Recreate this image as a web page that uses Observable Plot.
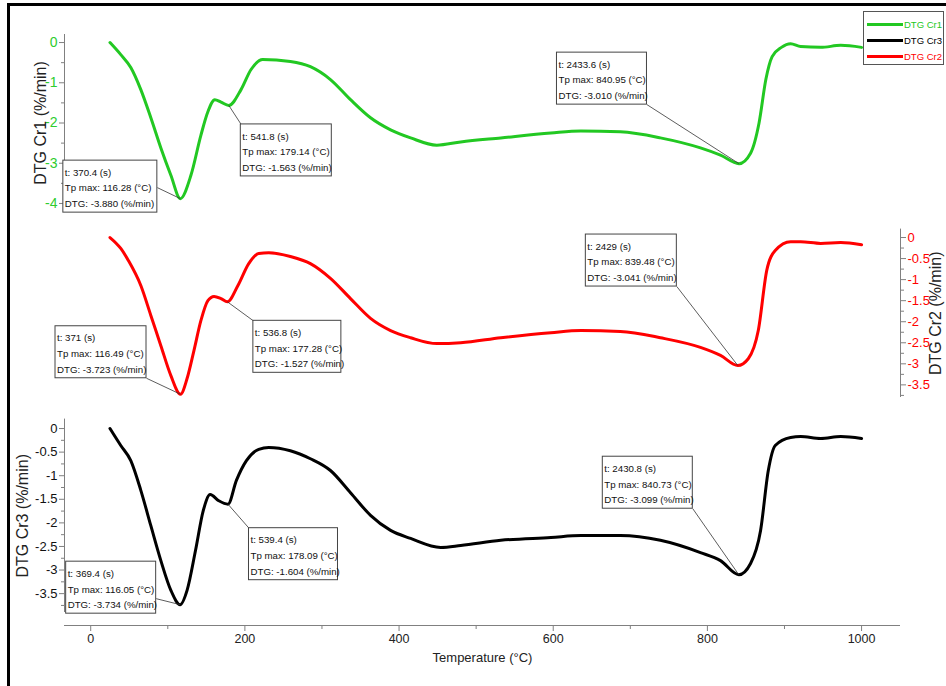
<!DOCTYPE html>
<html><head><meta charset="utf-8">
<script src="https://cdn.jsdelivr.net/npm/d3@7"></script>
<script src="https://cdn.jsdelivr.net/npm/@observablehq/plot@0.6"></script>
<style>
html,body{margin:0;padding:0;background:#fff;overflow:hidden;}
#wrap{position:relative;width:946px;height:686px;overflow:hidden;background:#fff;}
#wrap svg{position:absolute;left:0;top:0;}
#border{position:absolute;left:7px;top:3px;width:980px;height:740px;border:3px solid #000;box-sizing:border-box;pointer-events:none;}
#legend{position:absolute;left:863px;top:11px;width:81px;height:54px;border:1px solid #555;box-sizing:border-box;background:#fff;padding-top:4px;}
#legend .row{display:flex;align-items:center;height:16px;white-space:nowrap;font:9.5px "Liberation Sans Narrow","Arial Narrow","Liberation Sans",sans-serif;}
#legend .sw{display:inline-block;flex:none;width:36px;height:3px;margin-left:3px;margin-right:1px;}
</style></head>
<body><div id="wrap"><div id="border"></div></div>
<script>
// ---------- data ----------
const cr1Temp = [25, 39, 52, 65, 78, 91, 104, 116.28, 130, 143, 152, 161, 169, 179.14, 195, 208, 223, 259, 285, 311, 337, 363, 389, 415, 449, 480, 532, 597, 636, 687, 739, 791, 817, 840.95, 856, 867, 876, 884, 896, 908, 921, 947, 973, 1000];
const cr1DTG  = [0, -0.3, -0.62, -1.17, -1.87, -2.62, -3.3, -3.88, -3.3, -2.3, -1.72, -1.42, -1.48, -1.563, -1.17, -0.67, -0.42, -0.47, -0.6, -0.92, -1.42, -1.87, -2.17, -2.37, -2.55, -2.47, -2.37, -2.25, -2.2, -2.22, -2.37, -2.62, -2.8, -3.01, -2.75, -2.0, -0.9, -0.35, -0.12, -0.03, -0.1, -0.12, -0.07, -0.12];

const cr2Temp = [25, 39, 49, 65, 78, 91, 104, 116.49, 125, 134, 143, 152, 160, 169, 177.28, 191, 205, 218, 231, 259, 285, 311, 337, 363, 389, 415, 449, 480, 532, 597, 636, 687, 739, 791, 817, 839.48, 853, 866, 877, 888, 908, 921, 947, 973, 1000];
const cr2DTG  = [0, -0.26, -0.55, -1.14, -1.85, -2.57, -3.28, -3.723, -3.35, -2.68, -1.97, -1.5, -1.4, -1.45, -1.527, -1.14, -0.62, -0.38, -0.36, -0.45, -0.62, -0.97, -1.45, -1.92, -2.21, -2.38, -2.52, -2.5, -2.38, -2.26, -2.21, -2.23, -2.38, -2.61, -2.8, -3.041, -2.88, -2.21, -0.78, -0.31, -0.1, -0.1, -0.14, -0.12, -0.17];

const cr3Temp = [25, 39, 52, 65, 78, 91, 104, 116.05, 125, 136, 146, 155, 166, 178.09, 189, 202, 218, 231, 259, 285, 311, 337, 363, 389, 415, 454, 480, 532, 597, 636, 687, 739, 791, 817, 840.73, 856, 869, 879, 888, 908, 921, 947, 973, 1000];
const cr3DTG  = [0, -0.36, -0.68, -1.31, -2.06, -2.8, -3.43, -3.734, -3.43, -2.58, -1.74, -1.4, -1.53, -1.604, -1.1, -0.68, -0.44, -0.4, -0.47, -0.64, -0.89, -1.36, -1.84, -2.16, -2.33, -2.52, -2.48, -2.37, -2.31, -2.27, -2.27, -2.37, -2.63, -2.8, -3.099, -2.86, -2.16, -0.89, -0.36, -0.19, -0.17, -0.21, -0.17, -0.21];

// peak annotations
const cr1PeakTime = ["370.4", "541.8", "2433.6"];
const cr1PeakT    = [116.28, 179.14, 840.95];
const cr1PeakDTG  = [-3.880, -1.563, -3.010];
const cr2PeakTime = ["371", "536.8", "2429"];
const cr2PeakT    = [116.49, 177.28, 839.48];
const cr2PeakDTG  = [-3.723, -1.527, -3.041];
const cr3PeakTime = ["369.4", "539.4", "2430.8"];
const cr3PeakT    = [116.05, 178.09, 840.73];
const cr3PeakDTG  = [-3.734, -1.604, -3.099];

// tick labels
const xTicks = [0, 200, 400, 600, 800, 1000];
const xMinorTicks = [100, 300, 500, 700, 900];
const cr1Ticks = [0, -1, -2, -3, -4];
const cr1MinorTicks = [-0.5, -1.5, -2.5, -3.5];
const cr2Ticks = [0, -0.5, -1, -1.5, -2, -2.5, -3, -3.5];
const cr2MinorTicks = [-0.25, -0.75, -1.25, -1.75, -2.25, -2.75, -3.25, -3.75];
const cr3Ticks = [0, -0.5, -1, -1.5, -2, -2.5, -3, -3.5];
const cr3MinorTicks = [-0.25, -0.75, -1.25, -1.75, -2.25, -2.75, -3.25, -3.75];

const legendNames = ["DTG Cr1", "DTG Cr3", "DTG Cr2"];
const yTitles = ["DTG Cr1 (%/min)", "DTG Cr2 (%/min)", "DTG Cr3 (%/min)"];
const xTitle = "Temperature (°C)";

// ---------- layout / style ----------
const W = 946, H = 686, M_BOTTOM = 61;
const X_DOMAIN = [-34, 1050.5];
const xPx = d3.scaleLinear(X_DOMAIN, [64, W - 46]);
const GREEN = "#22c822", GREEN_TXT = "#2ecc2e", RED = "#ff0000", BLACK = "#000000";
const AXIS_GRAY = "#808080";
const BOX_H = 52;
const sans = '"Liberation Sans", Arial, Helvetica, sans-serif';
const narrow = '"Liberation Sans Narrow", "Arial Narrow", "Liberation Sans", sans-serif';
const seriesColor = {"DTG Cr1": GREEN, "DTG Cr2": RED, "DTG Cr3": BLACK};

function rows(T, V) { return T.map((t, i) => ({T: t, v: V[i]})); }

function panelPlot(cfg) {
  const yPx = d3.scaleLinear(cfg.yDomain, cfg.yRange);
  const peaks = cfg.peakT.map((t, i) => {
    const v = cfg.peakV[i];
    const px = xPx(t), py = yPx(v);
    const L = cfg.layout[i];
    const bx = px + L.dx, by = py + L.dy;
    return {
      T: t, v,
      label: `t: ${cfg.peakTime[i]} (s)\nTp max: ${t.toFixed(2)} (°C)\nDTG: ${v.toFixed(3)} (%/min)`,
      bx1: xPx.invert(bx), bx2: xPx.invert(bx + L.w),
      by1: yPx.invert(by), by2: yPx.invert(by + BOX_H),
      lx: xPx.invert(bx + L.lx), ly: yPx.invert(by + L.ly),
      tx: xPx.invert(bx + 1.5), ty: yPx.invert(by + 4)
    };
  });
  const marks = [
    Plot.ruleX([cfg.anchor === "left" ? X_DOMAIN[0] : X_DOMAIN[1]], {y1: cfg.yDomain[0], y2: cfg.yDomain[1], stroke: AXIS_GRAY}),
    Plot.axisY({anchor: cfg.anchor, ticks: cfg.minor, tickSize: 3, stroke: AXIS_GRAY, tickFormat: () => "", label: null}),
    Plot.axisY({anchor: cfg.anchor, ticks: cfg.ticks, tickSize: 5, tickPadding: 2, stroke: AXIS_GRAY, fill: cfg.tickColor,
      tickFormat: d => String(d), fontSize: cfg.tickFontSize, fontFamily: cfg.tickFont, label: null}),
    Plot.text([cfg.title], {text: d => d, x: xPx.invert(cfg.titleX), y: (cfg.yDomain[0] + cfg.yDomain[1]) / 2,
      rotate: -90, fontSize: 16, fill: "#222", fontFamily: sans}),
    Plot.line(rows(cfg.temp, cfg.dtg), {x: "T", y: "v", stroke: cfg.color, strokeWidth: 3, curve: "monotone-x"}),
    Plot.link(peaks, {x1: "T", y1: "v", x2: "lx", y2: "ly", stroke: "#333", strokeWidth: 0.8}),
    Plot.rect(peaks, {x1: "bx1", x2: "bx2", y1: "by1", y2: "by2", fill: "white", stroke: "#444", strokeWidth: 1}),
    Plot.text(peaks, {x: "tx", y: "ty", text: "label", textAnchor: "start", lineAnchor: "top", lineHeight: 1.62,
      fontSize: 9.7, fontFamily: narrow, fill: "#111"}),
    ...(cfg.extra ? cfg.extra(yPx) : [])
  ];
  return Plot.plot({
    width: W, height: H, marginLeft: 64, marginRight: 46, marginTop: 0, marginBottom: M_BOTTOM,
    x: {domain: X_DOMAIN, axis: null},
    y: {domain: cfg.yDomain, range: cfg.yRange, axis: null},
    style: {background: "transparent", fontFamily: sans, fontSize: "13px", overflow: "visible"},
    marks
  });
}

const p1 = panelPlot({
  temp: cr1Temp, dtg: cr1DTG, color: GREEN, tickColor: GREEN_TXT, tickFont: sans, tickFontSize: 14,
  yDomain: [0.2, -4.2], yRange: [34, 211], anchor: "left", ticks: cr1Ticks, minor: cr1MinorTicks,
  title: yTitles[0], titleX: 40,
  peakT: cr1PeakT, peakV: cr1PeakDTG, peakTime: cr1PeakTime,
  layout: [
    {dx: -117, dy: -38, w: 94, lx: 94, ly: 27},
    {dx: 12, dy: 19, w: 91, lx: 1, ly: 1},
    {dx: -182, dy: -111, w: 90, lx: 90, ly: 52}
  ]
});

const p2 = panelPlot({
  temp: cr2Temp, dtg: cr2DTG, color: RED, tickColor: RED, tickFont: narrow, tickFontSize: 13,
  yDomain: [0.2, -3.8], yRange: [228.6, 397], anchor: "right", ticks: cr2Ticks, minor: cr2MinorTicks,
  title: yTitles[1], titleX: 935,
  peakT: cr2PeakT, peakV: cr2PeakDTG, peakTime: cr2PeakTime,
  layout: [
    {dx: -125, dy: -68, w: 91, lx: 91, ly: 52},
    {dx: 26, dy: 19, w: 88, lx: 0, ly: 0},
    {dx: -152, dy: -131, w: 91, lx: 91, ly: 52}
  ]
});

const p3 = panelPlot({
  temp: cr3Temp, dtg: cr3DTG, color: BLACK, tickColor: "#111", tickFont: narrow, tickFontSize: 13,
  yDomain: [0.2, -3.9], yRange: [418.6, 612], anchor: "left", ticks: cr3Ticks, minor: cr3MinorTicks,
  title: yTitles[2], titleX: 22,
  peakT: cr3PeakT, peakV: cr3PeakDTG, peakTime: cr3PeakTime,
  layout: [
    {dx: -114, dy: -43, w: 90, lx: 90, ly: 37},
    {dx: 21, dy: 24, w: 89, lx: 0, ly: 0},
    {dx: -136, dy: -118, w: 90, lx: 90, ly: 52}
  ],
  extra: (yPx) => [
    Plot.ruleY([-3.9], {x1: X_DOMAIN[0], x2: X_DOMAIN[1], dy: (H - M_BOTTOM) - 612, stroke: AXIS_GRAY}),
    Plot.axisX({ticks: xMinorTicks, tickSize: 4, stroke: AXIS_GRAY, tickFormat: () => "", label: null}),
    Plot.axisX({ticks: xTicks, tickSize: 6, tickPadding: 3, stroke: AXIS_GRAY, fill: "#222",
      tickFormat: d => String(d), fontSize: 12.5, fontFamily: narrow, label: null}),
    Plot.text([xTitle], {text: d => d, frameAnchor: "bottom", dy: 36, fontSize: 13, fontFamily: narrow, fill: "#222"})
  ]
});

const wrap = document.getElementById("wrap");
wrap.insertBefore(p3, wrap.firstChild);
wrap.insertBefore(p2, wrap.firstChild);
wrap.insertBefore(p1, wrap.firstChild);

// legend
const legend = document.createElement("div");
legend.id = "legend";
legendNames.forEach(name => {
  const row = document.createElement("div");
  row.className = "row";
  const sw = document.createElement("span");
  sw.className = "sw";
  sw.style.background = seriesColor[name];
  const tx = document.createElement("span");
  tx.textContent = name;
  tx.style.color = seriesColor[name];
  row.appendChild(sw); row.appendChild(tx);
  legend.appendChild(row);
});
wrap.appendChild(legend);
</script></body></html>
